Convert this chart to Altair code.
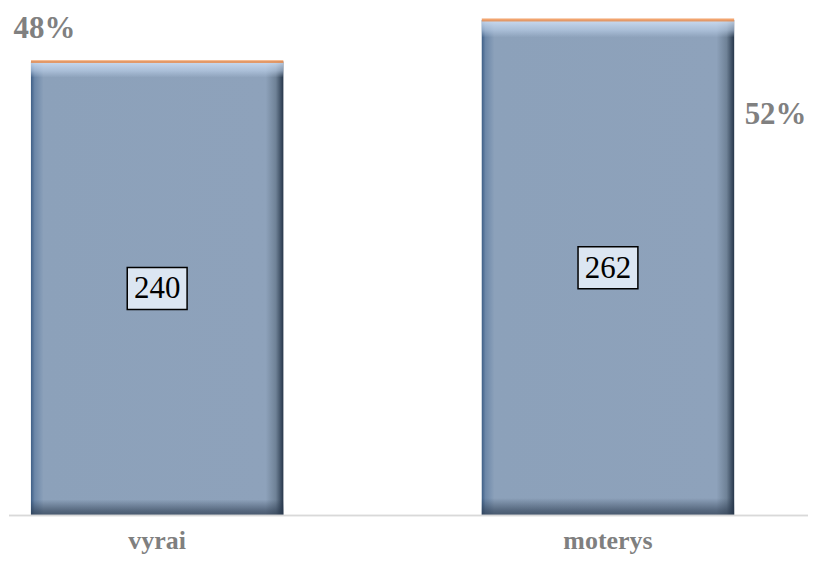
import altair as alt
import pandas as pd

categories = ["vyrai", "moterys"]
counts = [240, 262]
pct_values = [0.48, 0.52]
pct_labels = ["48%", "52%"]

df = pd.DataFrame({
    "cat": categories,
    "count": counts,
    "pct": pct_values,
    "pct_label": pct_labels,
    "mid": [c / 2 for c in counts],
    "count_label": [str(c) for c in counts],
    "zero": [0, 0],
})

SERIF = "Liberation Serif"

xscale = alt.Scale(paddingInner=0.44, paddingOuter=0, range=[22, 727])
x = alt.X("cat:N", sort=categories, scale=xscale, title=None,
          axis=alt.Axis(labelAngle=0, labelFont=SERIF, labelFontSize=26,
                        labelFontWeight="bold", labelColor="#7F7F7F",
                        labelBaseline="alphabetic", labelPadding=33,
                        ticks=False, domain=False))
yscale = alt.Scale(domain=[0, 268], nice=False)
y = alt.Y("count:Q", scale=yscale, axis=None)

base = alt.Chart(df)

h_grad = alt.Gradient(
    gradient="linear", x1=0, x2=1, y1=0, y2=0,
    stops=[
        alt.GradientStop(color="#3E5F87", offset=0),
        alt.GradientStop(color="#6C87A8", offset=0.015),
        alt.GradientStop(color="#8CA1BA", offset=0.05),
        alt.GradientStop(color="#8EA2BB", offset=0.93),
        alt.GradientStop(color="#6F8297", offset=0.97),
        alt.GradientStop(color="#26364A", offset=1),
    ],
)
v_grad = alt.Gradient(
    gradient="linear", x1=0, x2=0, y1=0, y2=1,
    stops=[
        alt.GradientStop(color="rgba(215,230,250,0.85)", offset=0),
        alt.GradientStop(color="rgba(190,210,235,0.6)", offset=0.02),
        alt.GradientStop(color="rgba(190,210,235,0.0)", offset=0.035),
        alt.GradientStop(color="rgba(40,55,75,0.0)", offset=0.965),
        alt.GradientStop(color="rgba(40,55,75,0.55)", offset=0.99),
        alt.GradientStop(color="rgba(40,55,75,0.7)", offset=1),
    ],
)

bars = base.mark_bar(fill=h_grad).encode(x=x, y=y)
bevel = base.mark_bar(fill=v_grad).encode(x=x, y=y)
baseline = base.mark_rule(color="#D9D9D9", strokeWidth=1.5).encode(
    y=alt.Y("zero:Q", scale=yscale, axis=None))
orange = base.mark_tick(color="#ED7D31", thickness=3, size=253).encode(x=x, y=y)

box = base.mark_point(
    shape="M-1,-0.7L1,-0.7L1,0.7L-1,0.7Z", size=3600, filled=True,
    fill="#DCE6F2", stroke="#000000", strokeWidth=1.5, opacity=1,
).encode(x=x, y=alt.Y("mid:Q", scale=yscale, axis=None))
vals = base.mark_text(font=SERIF, fontSize=31, color="#000000",
                      baseline="middle", dy=1).encode(
    x=x, y=alt.Y("mid:Q", scale=yscale, axis=None), text="count_label:N")

pct_left = base.transform_filter(alt.datum.cat == "vyrai").mark_text(
    font=SERIF, fontSize=31, fontWeight="bold", color="#808080",
    baseline="alphabetic", dx=-113, dy=-24).encode(x=x, y=y, text="pct_label:N")
pct_right = base.transform_filter(alt.datum.cat == "moterys").mark_text(
    font=SERIF, fontSize=31, fontWeight="bold", color="#808080",
    baseline="alphabetic", dx=168, dy=104).encode(x=x, y=y, text="pct_label:N")

chart = alt.layer(bars, bevel, baseline, orange, box, vals,
                  pct_left, pct_right).properties(
    width=801, height=508, padding=0
).configure_view(strokeWidth=0)

chart.save("out.html", embed_options={"renderer": "svg", "actions": False})
